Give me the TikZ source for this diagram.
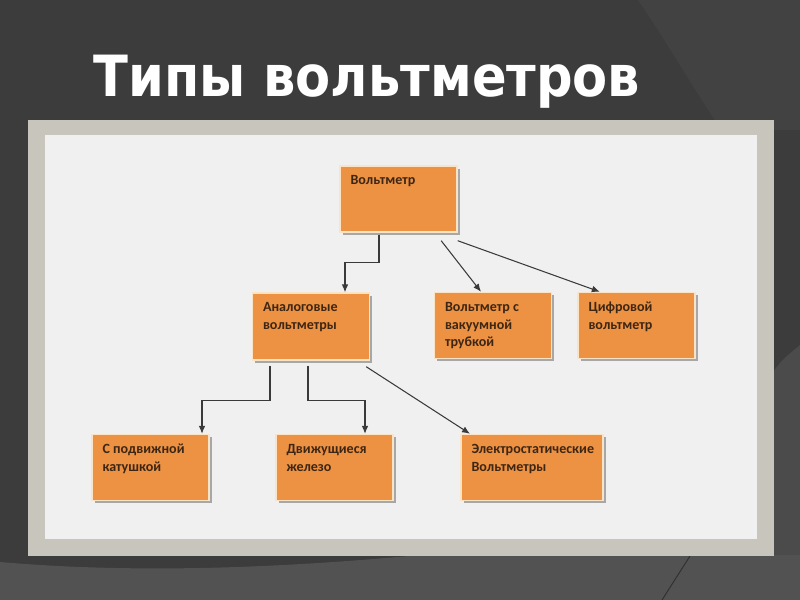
\documentclass[tikz,border=0pt]{standalone}
\usepackage{fontspec}
\setmainfont{Carlito}
\newfontfamily\titlefont{DejaVu Sans Condensed}
\usetikzlibrary{arrows.meta, shadows}

\definecolor{slidebg}{HTML}{3C3C3C}
\definecolor{slidelight}{HTML}{424242}
\definecolor{slidelow}{HTML}{525252}
\definecolor{frameout}{HTML}{C8C6BC}
\definecolor{framein}{HTML}{F0F0F0}
\definecolor{boxfill}{HTML}{EC9242}
\definecolor{boxedge}{HTML}{FBE3C6}
\definecolor{boxtext}{HTML}{3E2614}
\definecolor{linkgray}{HTML}{3A3A3A}

\begin{document}
\begin{tikzpicture}[
			x=0.03cm, y=-0.03cm,
			box/.style={draw=boxedge, line width=1.2pt, fill=boxfill, minimum width=3.51cm, minimum height=1.98cm,
				drop shadow={shadow xshift=2.2pt, shadow yshift=-2.2pt, fill=black, opacity=0.3},
				label={[box text]north west:#1}},
			box text/.style={anchor=north west, align=left, inner sep=0pt, xshift=0.33cm, yshift=-0.3cm,
				font=\bfseries\fontsize{12}{15.3}\selectfont, text=boxtext},
			link/.style={-{Latex[length=2.4mm, width=2mm]}, line width=0.9pt, draw=linkgray}
			]
			
			% --- Slide background ---
			\useasboundingbox (0,0) rectangle (800,600);
			\fill[slidebg] (0,0) rectangle (800,600);
			\fill[slidelight] (638,0) .. controls (672,50) and (700,100) .. (722,130) -- (800,130) -- (800,0) -- cycle;
			\fill[slidelow] (0,562) .. controls (150,575) and (300,566) .. (420,555) -- (800,555) -- (800,600) -- (0,600) -- cycle;
			\fill[slidelow!92!black] (773,372) .. controls (782,360) .. (800,345) -- (800,555) -- (773,555) -- cycle;
			\draw[slidebg!80!black, thick] (690,556) .. controls (676,578) .. (662,600);
			
			% --- Title ---
			\node[font=\titlefont\bfseries\fontsize{48.5}{52}\selectfont, text=white, anchor=base] (title) at (367,97) {Типы вольтметров};
			
			% --- Frame ---
			\fill[frameout] (28,120) rectangle (774,556);
			\fill[framein] (45,135) rectangle (757,539);
			
			% --- Top level ---
			\node[box=Вольтметр] (volt) at (398.5,199) {};
			
			% --- Second level ---
			\node[box={Аналоговые\\вольтметры}, minimum height=2.01cm] (analog) at (311,326.5) {};
			\node[box={Вольтметр с\\вакуумной\\трубкой}] (vacuum) at (493,325.5) {};
			\node[box={Цифровой\\вольтметр}] (digital) at (636.5,325.5) {};
			
			% --- Third level (analog types) ---
			\node[box={С подвижной\\катушкой}] (coil) at (150.5,467.5) {};
			\node[box={Движущиеся\\железо}] (iron) at (334.5,467.5) {};
			\node[box={Электростатические\\Вольтметры}, minimum width=4.26cm] (electro) at (532,467.5) {};
			
			% --- Links ---
			\draw[link] ([xshift=-0.585cm, yshift=-0.06cm]volt.south) -- ++(0,-0.84cm) -| ([xshift=1.02cm]analog.north);
			\draw[link] ([xshift=1.28cm, yshift=-0.24cm]volt.south) -- ([xshift=-0.36cm]vacuum.north);
			\draw[link] ([yshift=-0.24cm]volt.south east) -- ([xshift=-1.1cm]digital.north);
			\draw[link] ([xshift=-1.23cm, yshift=-0.15cm]analog.south) -- ++(0,-1.05cm) -| ([xshift=1.545cm]coil.north);
			\draw[link] ([xshift=-0.09cm, yshift=-0.15cm]analog.south) -- ++(0,-1.05cm) -| ([xshift=0.915cm]iron.north);
			\draw[link] ([xshift=-0.12cm, yshift=-0.18cm]analog.south east) -- ([xshift=-1.86cm]electro.north);
			
		\end{tikzpicture}
\end{document}
